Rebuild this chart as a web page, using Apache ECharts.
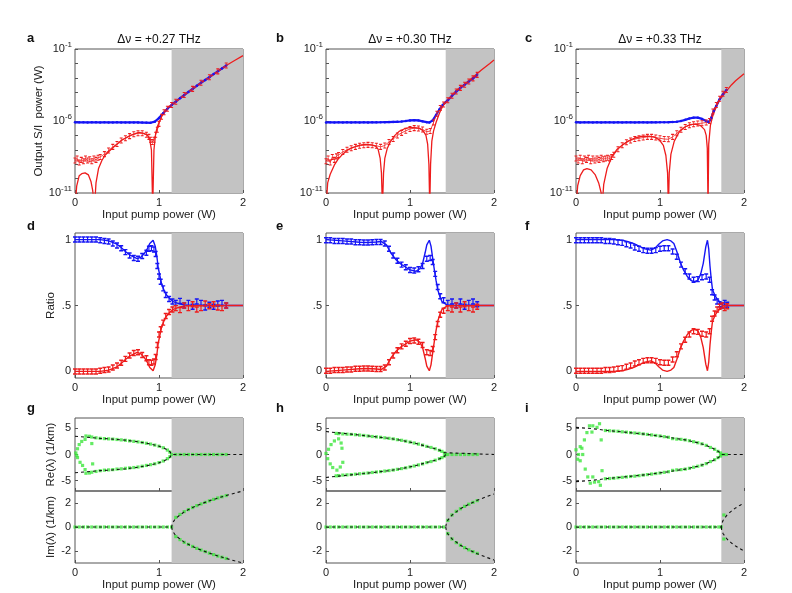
<!DOCTYPE html>
<html><head><meta charset="utf-8">
<script src="https://cdn.jsdelivr.net/npm/echarts@6/dist/echarts.min.js"></script>
<style>html,body{margin:0;padding:0;background:#fff}#c{width:792px;height:593px}</style>
</head><body><div id="c"></div>
<script>
// ---------- labels / ticks ----------
const panelLetters = ['a','b','c','d','e','f','g','h','i'];
const detunings = ['Δν = +0.27 THz','Δν = +0.30 THz','Δν = +0.33 THz'];
const thresholds = [1.15, 1.425, 1.73];
const logTickExps = [-11, -6, -1];
const ratioTicks = [0, 0.5, 1];
const reTicks = [-5, 0, 5];
const imTicks = [-2, 0, 2];

// ---------- row 1: output signal / idler power (W) ----------
const blueA = [[0,8.1e-7],[0.05,8.2e-7],[0.1,8.1e-7],[0.15,8.0e-7],[0.2,8.1e-7],[0.25,8.1e-7],[0.3,8.0e-7],[0.35,8.1e-7],[0.4,8.0e-7],[0.45,8.0e-7],[0.5,8.1e-7],[0.55,8.0e-7],[0.6,7.9e-7],[0.65,8.0e-7],[0.7,7.9e-7],[0.75,7.9e-7],[0.8,7.8e-7],[0.85,7.7e-7],[0.9,7.5e-7],[0.95,9.0e-7],[1.0,1.6e-6],[1.05,3.5e-6],[1.1,7.1e-6],[1.15,1.3e-5],[1.2,2.2e-5],[1.25,3.8e-5],[1.3,6.3e-5],[1.35,1.05e-4],[1.4,1.7e-4],[1.45,2.8e-4],[1.5,4.5e-4],[1.55,7.0e-4],[1.6,1.1e-3],[1.65,1.8e-3],[1.7,2.8e-3],[1.75,4.5e-3],[1.8,7.1e-3]];
const redTheoryA = [[0,1e-12],[0.02,3e-11],[0.05,1.6e-10],[0.08,2.2e-10],[0.12,2.5e-10],[0.16,1.8e-10],[0.19,6.3e-11],[0.21,1.6e-11],[0.232,1e-12],[0.25,5e-11],[0.28,5e-10],[0.32,1.8e-9],[0.36,4.4e-9],[0.45,1.4e-8],[0.56,4.8e-8],[0.66,1e-7],[0.76,1.6e-7],[0.82,1.4e-7],[0.86,1.1e-7],[0.89,5e-8],[0.91,1e-8],[0.925,1e-12],[0.94,1e-8],[0.96,1.3e-7],[0.98,4e-7],[1.0,7.9e-7],[1.04,2.6e-6],[1.08,5.6e-6],[1.115,1e-5],[1.15,1.3e-5],[1.2,2.2e-5],[1.3,6.3e-5],[1.4,1.7e-4],[1.5,4.5e-4],[1.6,1.1e-3],[1.7,2.8e-3],[1.8,7.1e-3],[1.9,1.6e-2],[2.0,3.5e-2]];
const redDataA = [[0,1.8e-9],[0.025,2.5e-9],[0.05,1.3e-9],[0.075,2e-9],[0.1,1.6e-9],[0.125,2.5e-9],[0.15,1.8e-9],[0.175,2.2e-9],[0.2,1.6e-9],[0.225,2.5e-9],[0.25,2e-9],[0.275,2.8e-9],[0.3,3.2e-9],[0.35,5e-9],[0.4,8.9e-9],[0.45,1.6e-8],[0.5,2.5e-8],[0.55,4.5e-8],[0.6,6.3e-8],[0.65,8.9e-8],[0.7,1.2e-7],[0.75,1.4e-7],[0.8,1.4e-7],[0.85,1.1e-7],[0.88,7.9e-8],[0.9,5e-8],[0.92,3.5e-8],[0.94,5e-8],[0.96,1.1e-7],[0.98,2.5e-7],[1.0,6.3e-7],[1.03,2e-6],[1.06,4e-6],[1.1,7.1e-6],[1.15,1.3e-5],[1.2,2.2e-5],[1.3,6.3e-5],[1.4,1.7e-4],[1.5,4.5e-4],[1.6,1.1e-3],[1.7,2.8e-3],[1.8,7.1e-3]];

const blueB = [[0,8.0e-7],[0.05,8.1e-7],[0.1,8.0e-7],[0.15,8.1e-7],[0.2,8.0e-7],[0.25,8.1e-7],[0.3,8.0e-7],[0.35,8.1e-7],[0.4,8.0e-7],[0.45,8.1e-7],[0.5,8.0e-7],[0.55,8.1e-7],[0.6,8.1e-7],[0.65,8.2e-7],[0.7,8.3e-7],[0.75,8.4e-7],[0.8,8.6e-7],[0.85,8.8e-7],[0.9,9.2e-7],[0.95,1.0e-6],[1.0,1.1e-6],[1.05,1.15e-6],[1.1,1.1e-6],[1.15,9.5e-7],[1.2,8.3e-7],[1.23,7.9e-7],[1.27,1.1e-6],[1.31,2.6e-6],[1.35,6.3e-6],[1.39,1.3e-5],[1.45,2.8e-5],[1.5,5.6e-5],[1.55,1.1e-4],[1.6,2.0e-4],[1.65,3.3e-4],[1.7,5.6e-4],[1.75,9.1e-4],[1.8,1.6e-3]];
const redTheoryB = [[0,1e-12],[0.02,5e-11],[0.05,2e-10],[0.1,8.9e-10],[0.15,2.5e-9],[0.2,5e-9],[0.25,8.9e-9],[0.3,1.3e-8],[0.35,1.7e-8],[0.42,2.2e-8],[0.48,2.4e-8],[0.54,2.2e-8],[0.59,1.8e-8],[0.62,1.1e-8],[0.645,2.5e-9],[0.66,2.5e-10],[0.672,1e-12],[0.685,2.5e-10],[0.7,2.5e-9],[0.73,1.3e-8],[0.77,4e-8],[0.82,1e-7],[0.87,1.9e-7],[0.93,2.8e-7],[0.99,3.5e-7],[1.05,3.5e-7],[1.11,3.2e-7],[1.16,2e-7],[1.19,1e-7],[1.21,2.5e-8],[1.225,1e-9],[1.235,1e-12],[1.245,1e-9],[1.26,4e-8],[1.28,2e-7],[1.31,7.9e-7],[1.35,3.5e-6],[1.39,1.1e-5],[1.45,2.8e-5],[1.55,1.3e-4],[1.65,3.5e-4],[1.75,1.1e-3],[1.85,3.5e-3],[1.95,1e-2],[2.0,1.7e-2]];
const redDataB = [[0,1.6e-9],[0.025,2.5e-9],[0.05,1.3e-9],[0.075,3.2e-9],[0.1,2e-9],[0.125,3.5e-9],[0.15,4.4e-9],[0.2,7.1e-9],[0.25,1e-8],[0.3,1.3e-8],[0.35,1.6e-8],[0.4,1.9e-8],[0.45,2.1e-8],[0.5,2.2e-8],[0.55,2.1e-8],[0.6,1.9e-8],[0.65,1.6e-8],[0.7,2e-8],[0.75,3.5e-8],[0.8,5.6e-8],[0.85,1e-7],[0.9,1.5e-7],[0.95,2.1e-7],[1.0,2.8e-7],[1.05,3.2e-7],[1.1,3e-7],[1.15,2.6e-7],[1.2,1.8e-7],[1.24,2e-7],[1.28,7.9e-7],[1.32,3.2e-6],[1.36,7.9e-6],[1.4,1.4e-5],[1.45,2.8e-5],[1.5,5.6e-5],[1.55,1.1e-4],[1.6,2e-4],[1.65,3.3e-4],[1.7,5.6e-4],[1.75,9.1e-4],[1.8,1.6e-3]];

const blueC = [[0,8.1e-7],[0.05,8.0e-7],[0.1,8.1e-7],[0.15,8.1e-7],[0.2,8.0e-7],[0.25,8.1e-7],[0.3,8.0e-7],[0.35,8.1e-7],[0.4,8.1e-7],[0.45,8.0e-7],[0.5,8.1e-7],[0.55,8.0e-7],[0.6,8.1e-7],[0.65,8.1e-7],[0.7,8.0e-7],[0.75,8.1e-7],[0.8,8.1e-7],[0.85,8.0e-7],[0.9,8.1e-7],[0.95,8.1e-7],[1.0,8.2e-7],[1.05,8.2e-7],[1.1,8.3e-7],[1.15,8.5e-7],[1.2,8.9e-7],[1.25,1.0e-6],[1.3,1.2e-6],[1.35,1.5e-6],[1.4,1.7e-6],[1.45,1.7e-6],[1.5,1.4e-6],[1.55,1.0e-6],[1.58,8.3e-7],[1.61,1.6e-6],[1.64,5.0e-6],[1.67,1.1e-5],[1.71,3.2e-5],[1.75,7.1e-5],[1.79,1.4e-4]];
const redTheoryC = [[0,1e-12],[0.02,3.2e-11],[0.05,1.6e-10],[0.09,4e-10],[0.13,5e-10],[0.18,4e-10],[0.23,1.8e-10],[0.27,5e-11],[0.3,1e-11],[0.31,1e-12],[0.33,4e-11],[0.37,5e-10],[0.43,3.5e-9],[0.49,1.1e-8],[0.55,2.1e-8],[0.62,4e-8],[0.7,6.6e-8],[0.78,8.5e-8],[0.86,8.9e-8],[0.93,7.9e-8],[0.99,5e-8],[1.04,2e-8],[1.07,4e-9],[1.09,2.5e-10],[1.1,1e-12],[1.11,2.5e-10],[1.13,5e-9],[1.17,4e-8],[1.23,1.8e-7],[1.3,4e-7],[1.36,5.6e-7],[1.42,6e-7],[1.48,5e-7],[1.53,2.5e-7],[1.55,1e-7],[1.563,1.3e-8],[1.572,1e-12],[1.58,2.5e-8],[1.6,5e-7],[1.63,2.5e-6],[1.67,1e-5],[1.71,3.2e-5],[1.75,6.3e-5],[1.8,1.4e-4],[1.85,3.2e-4],[1.9,6.3e-4],[1.95,1.1e-3],[2.0,1.9e-3]];
const redDataC = [[0,2.5e-9],[0.025,1.8e-9],[0.05,2.8e-9],[0.075,1.6e-9],[0.1,2.5e-9],[0.125,2e-9],[0.15,2.8e-9],[0.175,1.6e-9],[0.2,2.5e-9],[0.225,1.8e-9],[0.25,2.5e-9],[0.275,2e-9],[0.3,2.8e-9],[0.325,2.2e-9],[0.35,2.5e-9],[0.375,2.8e-9],[0.4,2.5e-9],[0.425,3.2e-9],[0.45,4.5e-9],[0.5,1.1e-8],[0.55,2.1e-8],[0.6,3.3e-8],[0.65,4.5e-8],[0.7,5.6e-8],[0.75,6.3e-8],[0.8,7.1e-8],[0.85,7.9e-8],[0.9,7.9e-8],[0.95,7.1e-8],[1.0,6.3e-8],[1.05,5.6e-8],[1.1,5.4e-8],[1.15,7.9e-8],[1.2,1.4e-7],[1.25,2.5e-7],[1.3,3.8e-7],[1.35,5e-7],[1.4,6e-7],[1.45,6.6e-7],[1.5,7.1e-7],[1.55,7.9e-7],[1.59,1e-6],[1.63,4.5e-6],[1.67,1.3e-5],[1.71,3.5e-5],[1.75,7.9e-5],[1.79,1.4e-4]];

// ---------- row 2: ratio ----------
const blueRatioTheoryD = [[0,1],[0.3,1],[0.4,0.99],[0.5,0.965],[0.54,0.945],[0.6,0.91],[0.66,0.88],[0.74,0.856],[0.78,0.865],[0.82,0.89],[0.86,0.93],[0.89,0.97],[0.93,0.995],[0.955,0.95],[0.975,0.87],[0.99,0.79],[1.03,0.665],[1.06,0.615],[1.09,0.58],[1.13,0.55],[1.17,0.53],[1.25,0.51],[1.35,0.5],[2,0.5]];
const redRatioTheoryD = [[0,0],[0.3,0],[0.4,0.01],[0.5,0.035],[0.54,0.055],[0.6,0.09],[0.66,0.12],[0.74,0.144],[0.78,0.135],[0.82,0.11],[0.86,0.07],[0.89,0.03],[0.93,0.005],[0.955,0.05],[0.975,0.13],[0.99,0.21],[1.03,0.335],[1.06,0.385],[1.09,0.42],[1.13,0.45],[1.17,0.47],[1.25,0.49],[1.35,0.5],[2,0.5]];
const blueRatioDataD = [[0,1],[0.05,1],[0.1,1],[0.15,1],[0.2,1],[0.25,1],[0.3,0.995],[0.35,0.99],[0.4,0.985],[0.45,0.97],[0.5,0.955],[0.55,0.935],[0.6,0.905],[0.65,0.88],[0.7,0.86],[0.75,0.855],[0.8,0.875],[0.85,0.9],[0.88,0.93],[0.91,0.935],[0.94,0.925],[0.96,0.89],[0.98,0.8],[1.0,0.72],[1.02,0.68],[1.05,0.63],[1.08,0.58],[1.12,0.55],[1.16,0.53],[1.2,0.52],[1.25,0.535],[1.3,0.5],[1.35,0.52],[1.4,0.49],[1.45,0.53],[1.5,0.52],[1.55,0.485],[1.6,0.505],[1.65,0.49],[1.7,0.515],[1.75,0.52],[1.8,0.5]];
const redRatioDataD = [[0,0],[0.05,0],[0.1,0],[0.15,0],[0.2,0],[0.25,0],[0.3,0.005],[0.35,0.01],[0.4,0.015],[0.45,0.03],[0.5,0.045],[0.55,0.065],[0.6,0.095],[0.65,0.12],[0.7,0.14],[0.75,0.145],[0.8,0.125],[0.85,0.1],[0.88,0.07],[0.91,0.065],[0.94,0.075],[0.96,0.11],[0.98,0.2],[1.0,0.28],[1.02,0.32],[1.05,0.37],[1.08,0.42],[1.12,0.45],[1.16,0.47],[1.2,0.48],[1.25,0.465],[1.3,0.5],[1.35,0.48],[1.4,0.51],[1.45,0.47],[1.5,0.48],[1.55,0.515],[1.6,0.495],[1.65,0.51],[1.7,0.485],[1.75,0.48],[1.8,0.5]];

const blueRatioTheoryE = [[0,1],[0.2,0.99],[0.4,0.98],[0.5,0.978],[0.6,0.982],[0.66,0.985],[0.72,0.96],[0.77,0.9],[0.83,0.85],[0.89,0.815],[0.95,0.79],[1.0,0.77],[1.07,0.76],[1.12,0.78],[1.15,0.82],[1.18,0.9],[1.2,0.96],[1.23,0.995],[1.25,0.95],[1.27,0.86],[1.29,0.77],[1.31,0.69],[1.33,0.62],[1.36,0.56],[1.38,0.53],[1.44,0.505],[1.5,0.5],[2,0.5]];
const redRatioTheoryE = [[0,0],[0.2,0.01],[0.4,0.02],[0.5,0.022],[0.6,0.018],[0.66,0.015],[0.72,0.04],[0.77,0.1],[0.83,0.15],[0.89,0.185],[0.95,0.21],[1.0,0.23],[1.07,0.24],[1.12,0.22],[1.15,0.18],[1.18,0.1],[1.2,0.04],[1.23,0.005],[1.25,0.05],[1.27,0.14],[1.29,0.23],[1.31,0.31],[1.33,0.38],[1.36,0.44],[1.38,0.47],[1.44,0.495],[1.5,0.5],[2,0.5]];
const blueRatioDataE = [[0,0.995],[0.05,0.995],[0.1,0.99],[0.15,0.99],[0.2,0.99],[0.25,0.985],[0.3,0.985],[0.35,0.98],[0.4,0.98],[0.45,0.978],[0.5,0.978],[0.55,0.98],[0.6,0.982],[0.65,0.982],[0.7,0.97],[0.75,0.93],[0.8,0.88],[0.85,0.84],[0.9,0.81],[0.95,0.79],[1.0,0.77],[1.05,0.765],[1.1,0.775],[1.15,0.8],[1.2,0.855],[1.24,0.86],[1.27,0.83],[1.3,0.74],[1.33,0.64],[1.36,0.57],[1.4,0.54],[1.45,0.52],[1.5,0.53],[1.55,0.5],[1.6,0.53],[1.65,0.49],[1.7,0.52],[1.75,0.53],[1.8,0.51]];
const redRatioDataE = [[0,0.005],[0.05,0.005],[0.1,0.01],[0.15,0.01],[0.2,0.01],[0.25,0.015],[0.3,0.015],[0.35,0.02],[0.4,0.02],[0.45,0.022],[0.5,0.022],[0.55,0.02],[0.6,0.018],[0.65,0.018],[0.7,0.03],[0.75,0.07],[0.8,0.12],[0.85,0.16],[0.9,0.19],[0.95,0.21],[1.0,0.23],[1.05,0.235],[1.1,0.225],[1.15,0.2],[1.2,0.145],[1.24,0.14],[1.27,0.17],[1.3,0.26],[1.33,0.36],[1.36,0.43],[1.4,0.46],[1.45,0.48],[1.5,0.47],[1.55,0.5],[1.6,0.47],[1.65,0.51],[1.7,0.48],[1.75,0.47],[1.8,0.49]];

const blueRatioTheoryF = [[0,1],[0.45,1],[0.55,0.995],[0.62,0.985],[0.69,0.97],[0.75,0.95],[0.82,0.93],[0.89,0.92],[0.94,0.935],[0.985,0.965],[1.03,0.99],[1.085,1.0],[1.13,0.99],[1.165,0.97],[1.2,0.91],[1.245,0.82],[1.28,0.77],[1.325,0.72],[1.37,0.69],[1.405,0.68],[1.45,0.69],[1.485,0.74],[1.515,0.82],[1.545,0.945],[1.565,0.995],[1.58,0.93],[1.595,0.8],[1.61,0.7],[1.625,0.62],[1.655,0.575],[1.685,0.545],[1.745,0.505],[1.8,0.5],[2,0.5]];
const redRatioTheoryF = [[0,0],[0.45,0],[0.55,0.005],[0.62,0.015],[0.69,0.03],[0.75,0.05],[0.82,0.07],[0.89,0.08],[0.94,0.065],[0.985,0.035],[1.03,0.01],[1.085,0.0],[1.13,0.01],[1.165,0.03],[1.2,0.09],[1.245,0.18],[1.28,0.23],[1.325,0.28],[1.37,0.31],[1.405,0.32],[1.45,0.31],[1.485,0.26],[1.515,0.18],[1.545,0.055],[1.565,0.005],[1.58,0.07],[1.595,0.2],[1.61,0.3],[1.625,0.38],[1.655,0.425],[1.685,0.455],[1.745,0.495],[1.8,0.5],[2,0.5]];
const blueRatioDataF = [[0,0.995],[0.05,0.995],[0.1,0.995],[0.15,0.995],[0.2,0.995],[0.25,0.995],[0.3,0.995],[0.35,0.99],[0.4,0.99],[0.45,0.985],[0.5,0.98],[0.55,0.975],[0.6,0.965],[0.65,0.955],[0.7,0.94],[0.75,0.93],[0.8,0.92],[0.85,0.915],[0.9,0.915],[0.95,0.92],[1.0,0.93],[1.05,0.935],[1.1,0.935],[1.15,0.91],[1.2,0.87],[1.25,0.81],[1.3,0.76],[1.35,0.72],[1.4,0.695],[1.45,0.7],[1.5,0.715],[1.55,0.72],[1.59,0.695],[1.62,0.6],[1.65,0.56],[1.68,0.53],[1.71,0.51],[1.74,0.5],[1.77,0.52],[1.8,0.505]];
const redRatioDataF = [[0,0.005],[0.05,0.005],[0.1,0.005],[0.15,0.005],[0.2,0.005],[0.25,0.005],[0.3,0.005],[0.35,0.01],[0.4,0.01],[0.45,0.015],[0.5,0.02],[0.55,0.025],[0.6,0.035],[0.65,0.045],[0.7,0.06],[0.75,0.07],[0.8,0.08],[0.85,0.085],[0.9,0.085],[0.95,0.08],[1.0,0.07],[1.05,0.065],[1.1,0.065],[1.15,0.09],[1.2,0.13],[1.25,0.19],[1.3,0.24],[1.35,0.28],[1.4,0.305],[1.45,0.3],[1.5,0.285],[1.55,0.28],[1.59,0.305],[1.62,0.4],[1.65,0.44],[1.68,0.47],[1.71,0.49],[1.74,0.5],[1.77,0.48],[1.8,0.495]];

// ---------- row 3: eigenvalues Re / Im (1/km) ----------
const reTheoryUpG = [[0,3.5],[0.15,3.3],[0.3,3.1],[0.45,2.95],[0.6,2.75],[0.75,2.45],[0.9,2.0],[1.0,1.6],[1.05,1.3],[1.1,0.9],[1.13,0.55],[1.145,0.25],[1.15,0],[2,0]];
const reTheoryLoG = [[0,-3.5],[0.15,-3.3],[0.3,-3.1],[0.45,-2.95],[0.6,-2.75],[0.75,-2.45],[0.9,-2.0],[1.0,-1.6],[1.05,-1.3],[1.1,-0.9],[1.13,-0.55],[1.145,-0.25],[1.15,0]];
const imTheoryUpG = [[0,0],[1.15,0],[1.16,0.33],[1.2,0.73],[1.3,1.26],[1.4,1.63],[1.5,1.92],[1.6,2.18],[1.7,2.41],[1.8,2.62],[1.9,2.82],[2,3.0]];
const imTheoryLoG = [[1.15,0],[1.16,-0.33],[1.2,-0.73],[1.3,-1.26],[1.4,-1.63],[1.5,-1.92],[1.6,-2.18],[1.7,-2.41],[1.8,-2.62],[1.9,-2.82],[2,-3.0]];
const reDataG = [[0.01,0.3],[0.03,1.1],[0.05,1.9],[0.08,2.5],[0.03,-0.6],[0.06,-1.5],[0.09,-2.1],[0.12,2.9],[0.2,2.1],[0.21,-1.8],[0.02,-0.2],[0.12,-2.9],
[0.13,3.55],[0.17,3.5],[0.2,3.35],[0.25,3.2],[0.3,3.1],[0.35,3.05],[0.4,3.0],[0.45,2.95],[0.5,2.88],[0.55,2.8],[0.6,2.72],[0.65,2.62],[0.7,2.52],[0.75,2.42],[0.8,2.3],[0.85,2.15],[0.9,2.0],[0.95,1.8],[1.0,1.6],[1.05,1.3],[1.1,0.85],[1.13,0.45],
[0.13,-3.6],[0.17,-3.55],[0.2,-3.4],[0.25,-3.25],[0.3,-3.1],[0.35,-3.0],[0.4,-2.95],[0.45,-2.9],[0.5,-2.8],[0.55,-2.75],[0.6,-2.65],[0.65,-2.58],[0.7,-2.5],[0.75,-2.4],[0.8,-2.25],[0.85,-2.1],[0.9,-1.95],[0.95,-1.78],[1.0,-1.55],[1.05,-1.25],[1.1,-0.8],[1.13,-0.4],
[1.15,0],[1.2,0],[1.25,0],[1.3,0],[1.35,0],[1.4,0],[1.45,0],[1.5,0],[1.55,0],[1.6,0],[1.65,0],[1.7,0],[1.75,0],[1.8,0]];
const imDataG = [[0,0],[0.05,0],[0.1,0],[0.15,0],[0.2,0],[0.25,0],[0.3,0],[0.35,0],[0.4,0],[0.45,0],[0.5,0],[0.55,0],[0.6,0],[0.65,0],[0.7,0],[0.75,0],[0.8,0],[0.85,0],[0.9,0],[0.95,0],[1.0,0],[1.05,0],[1.1,0],[1.15,0],
[1.2,0.8],[1.25,1.05],[1.3,1.28],[1.35,1.45],[1.4,1.62],[1.45,1.78],[1.5,1.92],[1.55,2.05],[1.6,2.18],[1.65,2.3],[1.7,2.42],[1.75,2.52],[1.8,2.62],
[1.2,-0.8],[1.25,-1.05],[1.3,-1.28],[1.35,-1.45],[1.4,-1.62],[1.45,-1.78],[1.5,-1.92],[1.55,-2.05],[1.6,-2.18],[1.65,-2.3],[1.7,-2.42],[1.75,-2.52],[1.8,-2.62]];

const reTheoryUpH = [[0,4.4],[0.15,4.15],[0.3,3.9],[0.45,3.65],[0.6,3.38],[0.75,3.1],[0.9,2.72],[1.05,2.2],[1.2,1.55],[1.3,1.1],[1.37,0.7],[1.41,0.35],[1.425,0],[2,0]];
const reTheoryLoH = [[0,-4.4],[0.15,-4.15],[0.3,-3.9],[0.45,-3.65],[0.6,-3.38],[0.75,-3.1],[0.9,-2.72],[1.05,-2.2],[1.2,-1.55],[1.3,-1.1],[1.37,-0.7],[1.41,-0.35],[1.425,0]];
const imTheoryUpH = [[0,0],[1.425,0],[1.435,0.36],[1.45,0.57],[1.5,0.99],[1.6,1.52],[1.7,1.9],[1.8,2.22],[1.9,2.5],[2,2.75]];
const imTheoryLoH = [[1.425,0],[1.435,-0.36],[1.45,-0.57],[1.5,-0.99],[1.6,-1.52],[1.7,-1.9],[1.8,-2.22],[1.9,-2.5],[2,-2.75]];
const reDataH = [[0.0,0.2],[0.02,-0.8],[0.03,1.0],[0.05,-1.8],[0.06,1.9],[0.08,-2.5],[0.1,2.6],[0.13,-3.0],[0.15,3.0],[0.17,-2.4],[0.18,2.2],[0.2,-1.5],[0.19,1.2],
[0.12,4.05],[0.15,4.0],[0.2,3.95],[0.25,3.9],[0.3,3.85],[0.35,3.8],[0.4,3.72],[0.45,3.65],[0.5,3.55],[0.55,3.45],[0.6,3.38],[0.65,3.3],[0.7,3.2],[0.75,3.1],[0.8,3.0],[0.85,2.85],[0.9,2.72],[0.95,2.55],[1.0,2.38],[1.05,2.2],[1.1,2.0],[1.15,1.8],[1.2,1.55],[1.25,1.35],[1.3,1.1],[1.35,0.8],[1.38,0.6],[1.41,0.3],
[0.12,-4.1],[0.15,-4.05],[0.2,-3.95],[0.25,-3.9],[0.3,-3.85],[0.35,-3.78],[0.4,-3.7],[0.45,-3.62],[0.5,-3.55],[0.55,-3.45],[0.6,-3.36],[0.65,-3.28],[0.7,-3.18],[0.75,-3.08],[0.8,-2.98],[0.85,-2.85],[0.9,-2.7],[0.95,-2.55],[1.0,-2.38],[1.05,-2.2],[1.1,-2.0],[1.15,-1.8],[1.2,-1.55],[1.25,-1.35],[1.3,-1.1],[1.35,-0.8],[1.38,-0.6],[1.41,-0.3],
[1.425,0],[1.45,0],[1.5,0],[1.55,0],[1.6,0],[1.65,0],[1.7,0],[1.75,0],[1.8,0]];
const imDataH = [[0,0],[0.05,0],[0.1,0],[0.15,0],[0.2,0],[0.25,0],[0.3,0],[0.35,0],[0.4,0],[0.45,0],[0.5,0],[0.55,0],[0.6,0],[0.65,0],[0.7,0],[0.75,0],[0.8,0],[0.85,0],[0.9,0],[0.95,0],[1.0,0],[1.05,0],[1.1,0],[1.15,0],[1.2,0],[1.25,0],[1.3,0],[1.35,0],[1.4,0],
[1.45,0.55],[1.5,1.0],[1.55,1.3],[1.6,1.52],[1.65,1.72],[1.7,1.9],[1.75,2.05],[1.8,2.2],
[1.45,-0.55],[1.5,-1.0],[1.55,-1.3],[1.6,-1.52],[1.65,-1.72],[1.7,-1.9],[1.75,-2.05],[1.8,-2.2]];

const reTheoryUpI = [[0,5.2],[0.2,4.95],[0.35,4.65],[0.6,4.25],[0.85,3.85],[1.1,3.3],[1.3,2.8],[1.45,2.25],[1.55,1.75],[1.62,1.25],[1.68,0.75],[1.71,0.4],[1.73,0],[2,0]];
const reTheoryLoI = [[0,-5.2],[0.2,-4.95],[0.35,-4.65],[0.6,-4.25],[0.85,-3.85],[1.1,-3.3],[1.3,-2.8],[1.45,-2.25],[1.55,-1.75],[1.62,-1.25],[1.68,-0.75],[1.71,-0.4],[1.73,0]];
const imTheoryUpI = [[0,0],[1.73,0],[1.735,0.27],[1.75,0.54],[1.8,1.02],[1.85,1.33],[1.9,1.59],[1.95,1.8],[2,2.0]];
const imTheoryLoI = [[1.73,0],[1.735,-0.27],[1.75,-0.54],[1.8,-1.02],[1.85,-1.33],[1.9,-1.59],[1.95,-1.8],[2,-2.0]];
const reDataI = [[0.0,0.9],[0.02,-0.9],[0.03,0],[0.05,-1.2],[0.05,1.5],[0.08,0],[0.1,2.8],[0.11,-2.8],[0.13,4.2],[0.14,-4.3],[0.16,5.5],[0.17,-5.5],[0.2,5.5],[0.22,-5.3],[0.25,5.2],[0.27,-5.2],[0.28,5.9],[0.29,-5.9],[0.3,2.8],[0.31,-3.1],[0.07,1.2],[0.19,4.3],[0.2,-4.3],
[0.35,4.6],[0.4,4.55],[0.45,4.5],[0.5,4.45],[0.55,4.35],[0.6,4.28],[0.65,4.2],[0.7,4.12],[0.75,4.05],[0.8,3.95],[0.85,3.85],[0.9,3.75],[0.95,3.65],[1.0,3.55],[1.05,3.42],[1.1,3.3],[1.15,3.05],[1.2,2.95],[1.25,2.9],[1.3,2.8],[1.35,2.65],[1.4,2.45],[1.45,2.25],[1.5,2.05],[1.55,1.75],[1.6,1.35],[1.65,1.0],[1.69,0.6],[1.72,0.3],
[0.35,-4.65],[0.4,-4.6],[0.45,-4.55],[0.5,-4.45],[0.55,-4.38],[0.6,-4.3],[0.65,-4.22],[0.7,-4.15],[0.75,-4.05],[0.8,-3.95],[0.85,-3.85],[0.9,-3.75],[0.95,-3.65],[1.0,-3.55],[1.05,-3.42],[1.1,-3.3],[1.15,-3.05],[1.2,-2.95],[1.25,-2.9],[1.3,-2.8],[1.35,-2.65],[1.4,-2.45],[1.45,-2.25],[1.5,-2.05],[1.55,-1.75],[1.6,-1.35],[1.65,-1.0],[1.69,-0.6],[1.72,-0.3],
[1.73,0],[1.76,0],[1.79,0]];
const imDataI = [[0,0],[0.05,0],[0.1,0],[0.15,0],[0.2,0],[0.25,0],[0.3,0],[0.35,0],[0.4,0],[0.45,0],[0.5,0],[0.55,0],[0.6,0],[0.65,0],[0.7,0],[0.75,0],[0.8,0],[0.85,0],[0.9,0],[0.95,0],[1.0,0],[1.05,0],[1.1,0],[1.15,0],[1.2,0],[1.25,0],[1.3,0],[1.35,0],[1.4,0],[1.45,0],[1.5,0],[1.55,0],[1.6,0],[1.65,0],[1.7,0],[1.73,0],[1.76,1.0],[1.76,-1.0]];

// ---------- layout ----------
const FONT = 'Liberation Sans, Arial, Helvetica, sans-serif';
const BLUE = '#1515f5', RED = '#ee1c1c', GREEN = '#3de63d', SHADE = '#c3c3c3';
const colLeft = [75, 326, 576];
const colW = 168;
const rowBoxes = [[49,144],[233,145],[418,73],[491,72]];

const grids = [], xAxes = [], yAxes = [], series = [];
function addGrid(col, row) {
  const [top, h] = rowBoxes[row];
  grids.push({left: colLeft[col], top: top, width: colW, height: h, show: true,
    borderColor: '#555', borderWidth: 1, backgroundColor: 'transparent', containLabel: false});
  return grids.length - 1;
}
const tickStyle = {show: true, inside: true, length: 3, lineStyle: {color: '#555'}};
const hiddenLine = {show: false, onZero: false};
function xAxisFor(gi, showLabels) {
  xAxes.push({gridIndex: gi, type: 'value', min: 0, max: 2, interval: 1, position: 'bottom',
    axisLine: hiddenLine, splitLine: {show: false}, axisTick: tickStyle,
    axisLabel: {show: showLabels, fontSize: 11, color: '#222', margin: 4, fontFamily: FONT},
    name: showLabels ? 'Input pump power (W)' : '', nameLocation: 'middle', nameGap: 15,
    nameTextStyle: {fontSize: 11.5, color: '#222', fontFamily: FONT}});
}
function yAxisFor(gi, cfg) {
  yAxes.push(Object.assign({gridIndex: gi, position: 'left', axisLine: hiddenLine, splitLine: {show: false},
    axisTick: tickStyle, nameLocation: 'middle',
    nameTextStyle: {fontSize: 11.5, color: '#222', fontFamily: FONT}}, cfg));
}
function shade(th) {
  return {silent: true, itemStyle: {color: SHADE, opacity: 1}, data: [[{xAxis: th}, {xAxis: 2}]]};
}
function line(gi, data, color, width, extra) {
  series.push(Object.assign({type: 'line', xAxisIndex: gi, yAxisIndex: gi, data: data,
    showSymbol: false, symbol: 'none', animation: false, clip: true,
    lineStyle: {color: color, width: width}, itemStyle: {color: color}}, extra || {}));
}
const errBar = 'path://M0,0H4M2,0V10M0,10H4';
function fmtNum(v) { const r = Math.round(v * 100) / 100; return r === 0.5 ? '.5' : String(r); }
function customValueAxis(gi, min, max, ticks, name, gap) {
  yAxisFor(gi, {type: 'value', min: min, max: max, name: name, nameGap: gap,
    axisTick: Object.assign({customValues: ticks}, tickStyle),
    axisLabel: {customValues: ticks, fontSize: 11, color: '#222', margin: 4, fontFamily: FONT, formatter: fmtNum}});
}

const row1 = [[blueA, redTheoryA, redDataA],[blueB, redTheoryB, redDataB],[blueC, redTheoryC, redDataC]];
const row2 = [[blueRatioTheoryD, redRatioTheoryD, blueRatioDataD, redRatioDataD],
              [blueRatioTheoryE, redRatioTheoryE, blueRatioDataE, redRatioDataE],
              [blueRatioTheoryF, redRatioTheoryF, blueRatioDataF, redRatioDataF]];
const row3 = [[reTheoryUpG, reTheoryLoG, imTheoryUpG, imTheoryLoG, reDataG, imDataG],
              [reTheoryUpH, reTheoryLoH, imTheoryUpH, imTheoryLoH, reDataH, imDataH],
              [reTheoryUpI, reTheoryLoI, imTheoryUpI, imTheoryLoI, reDataI, imDataI]];
const dashed = {lineStyle: {color: '#111', width: 1.1, type: [3, 3]}};

for (let c = 0; c < 3; c++) {
  // row 1
  let gi = addGrid(c, 0);
  xAxisFor(gi, true);
  yAxisFor(gi, {type: 'log', logBase: 10, min: 1e-11, max: 1e-1, interval: 1,
    name: c === 0 ? 'Output S/I  power (W)' : '', nameGap: 30,
    axisLabel: {fontSize: 11, color: '#222', margin: 3, fontFamily: FONT,
      formatter: v => { const e = Math.round(Math.log10(v)); return logTickExps.includes(e) ? '10{s|' + e + '}' : ''; },
      rich: {s: {fontSize: 8, fontFamily: FONT, color: '#222', padding: [0, 0, 8, 0]}}}});
  const [bl, rt, rd] = row1[c];
  line(gi, bl, BLUE, 2.2, {showSymbol: true, symbol: 'circle', symbolSize: 2.5, markArea: shade(thresholds[c])});
  line(gi, rd, RED, 0.8, {showSymbol: true, symbol: errBar, symbolSize: [3, 5],
    itemStyle: {color: 'transparent', borderColor: RED, borderWidth: 0.8}});
  line(gi, rt, RED, 1.3);

  // row 2
  gi = addGrid(c, 1);
  xAxisFor(gi, true);
  customValueAxis(gi, -0.05, 1.05, ratioTicks, c === 0 ? 'Ratio' : '', 18);
  const [bt, rtt, bd, rdd] = row2[c];
  line(gi, bt, BLUE, 1.4, {markArea: shade(thresholds[c])});
  line(gi, bd, BLUE, 0, {showSymbol: true, symbol: errBar, symbolSize: [4, 5],
    lineStyle: {width: 0, opacity: 0},
    itemStyle: {color: 'transparent', borderColor: BLUE, borderWidth: 1.3}});
  line(gi, rtt, RED, 1.4);
  line(gi, rdd, RED, 0, {showSymbol: true, symbol: errBar, symbolSize: [4, 5],
    lineStyle: {width: 0, opacity: 0},
    itemStyle: {color: 'transparent', borderColor: RED, borderWidth: 1.3}});

  // row 3: Re
  const [ru, rl, iu, il, rD, iD] = row3[c];
  gi = addGrid(c, 2);
  xAxisFor(gi, false);
  customValueAxis(gi, -7, 7, reTicks, c === 0 ? 'Re(λ) (1/km)' : '', 16);
  series.push({type: 'scatter', xAxisIndex: gi, yAxisIndex: gi, data: rD, symbol: 'rect', symbolSize: 3.2,
    itemStyle: {color: GREEN}, animation: false, markArea: shade(thresholds[c])});
  line(gi, ru, '#111', 1.1, dashed);
  line(gi, rl, '#111', 1.1, dashed);

  // row 3: Im
  gi = addGrid(c, 3);
  xAxisFor(gi, true);
  customValueAxis(gi, -3, 3, imTicks, c === 0 ? 'Im(λ) (1/km)' : '', 16);
  series.push({type: 'scatter', xAxisIndex: gi, yAxisIndex: gi, data: iD, symbol: 'rect', symbolSize: 3.2,
    itemStyle: {color: GREEN}, animation: false, markArea: shade(thresholds[c])});
  line(gi, iu, '#111', 1.1, dashed);
  line(gi, il, '#111', 1.1, dashed);
}

// text: panel letters and titles
const graphics = [];
const letterX = [27, 276, 525];
const letterY = [40, 228, 410];
for (let r = 0; r < 3; r++) for (let c = 0; c < 3; c++) {
  graphics.push({type: 'text', left: letterX[c], top: letterY[r] - 8,
    style: {text: panelLetters[r * 3 + c], font: 'bold 13px ' + FONT, fill: '#111'}});
}
for (let c = 0; c < 3; c++) {
  graphics.push({type: 'text', x: colLeft[c] + colW / 2, y: 40,
    style: {text: detunings[c], font: '12px ' + FONT, fill: '#111', align: 'center', verticalAlign: 'middle'}});
}

const chart = echarts.init(document.getElementById('c'), null, {renderer: 'canvas'});
chart.setOption({animation: false, backgroundColor: '#fff', grid: grids, xAxis: xAxes, yAxis: yAxes,
  series: series, graphic: graphics});
</script></body></html>
